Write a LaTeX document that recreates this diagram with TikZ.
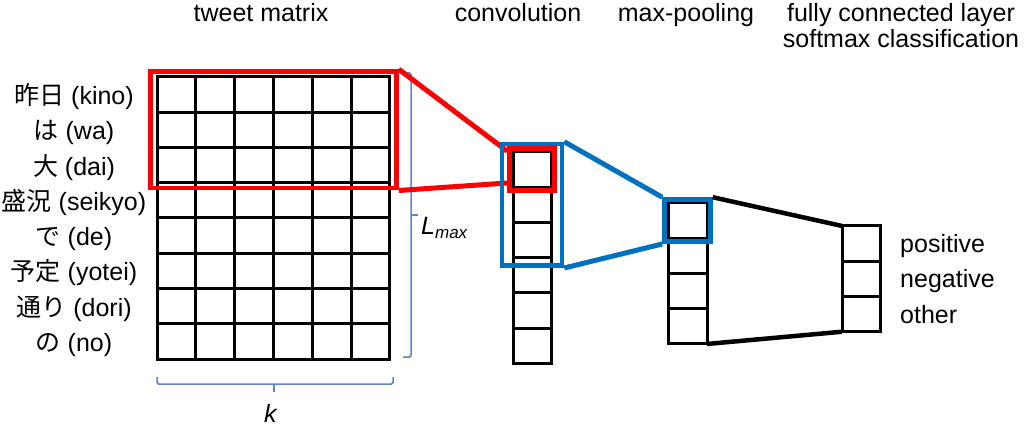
\documentclass[tikz,border=0pt]{standalone}
\usepackage{fontspec}
\setmainfont{Liberation Sans}
\newfontfamily\jpfont{Noto Sans CJK JP}
\usepackage{tikz}
\usetikzlibrary{positioning,fit}

\definecolor{winred}{RGB}{255,0,0}
\definecolor{winblue}{RGB}{0,112,192}
\definecolor{bracecol}{RGB}{98,130,200}

\newcommand{\jp}[1]{{\jpfont #1}}

\begin{document}
\begin{tikzpicture}[
  x=1pt, y=-1pt,
  font=\fontsize{25}{30}\selectfont,
  cell/.style={draw, line width=3, minimum width=38.8, minimum height=35.25, inner sep=0, outer sep=0},
  word/.style={anchor=base, inner sep=0},
  ttl/.style={anchor=base, inner sep=0},
  redwin/.style={draw=winred, line width=4.5},
  bluewin/.style={draw=winblue, line width=4.5},
  redln/.style={winred, line width=5},
  blueln/.style={winblue, line width=5},
  blackln/.style={black, line width=4.5},
  brace/.style={draw=bracecol, line width=1.5, rounded corners=1.5}
]
\useasboundingbox (0,0) rectangle (1024,430);

% titles
\node[ttl] (t-matrix) at (261,22) {tweet matrix};
\node[ttl] (t-conv) at (518,22) {convolution};
\node[ttl] (t-pool) at (686,22) {max-pooling};
\node[ttl] (t-fc1) at (901,22) {fully connected layer};
\node[ttl] (t-fc2) at (901,48) {softmax classification};

% tweet matrix, one row per word
\foreach \r in {1,...,8}
  \foreach \c in {1,...,6}
    \node[cell] (m-\r-\c) at ({157+(\c-0.5)*38.83}, {77+(\r-0.5)*35.25}) {};
\foreach \w [count=\r] in {{\jp{昨日} (kino)}, {\jp{は} (wa)}, {\jp{大} (dai)},
    {\jp{盛況} (seikyo)}, {\jp{で} (de)}, {\jp{予定} (yotei)}, {\jp{通り} (dori)}, {\jp{の} (no)}}
  \node[word] (w-\r) at (74, {77+(\r-0.5)*35.25+10}) {\w};
\node[redwin, fit=(m-1-1)(m-3-6), inner xsep=6.5, inner ysep=5.5] (win) {};

% braces
\draw[brace] (403,73) -- (411,73) -- (411,357) -- (403,357);
\draw[brace] (411,215) -- (418,215);
\node[anchor=base west, inner sep=0] (lmax) at (421,235)
  {\textit{L}\raisebox{-4pt}{\fontsize{17}{17}\selectfont\itshape max}};
\draw[brace] (157,377) -- (157,384) -- (393,384) -- (393,377);
\draw[brace] (274,384) -- (274,392);
\node[anchor=base, inner sep=0] (k) at (271,422) {\textit{k}};

% convolution column
\node[cell, minimum width=38] (c-1) at (532,169.6) {};
\foreach \i [remember=\i as \j (initially 1)] in {2,...,6}
  \node[cell, minimum width=38, below=0pt of c-\j] (c-\i) {};
\node[redwin, fit=(c-1), inner sep=3.5] (sel) {};
\draw[redln] (win.north east) -- ([yshift=-5]sel.north west);
\draw[redln] (win.south east) -- ([yshift=10]sel.south west);
\node[bluewin, fit=(c-1)(c-3), inner xsep=11, inner ysep=8] (cwin) {};

% max-pooling column
\node[cell, minimum width=39] (p-1) at (687.5,220.6) {};
\foreach \i [remember=\i as \j (initially 1)] in {2,...,4}
  \node[cell, minimum width=39, below=0pt of p-\j] (p-\i) {};
\node[bluewin, fit=(p-1), inner sep=3.5] (pwin) {};
\draw[blueln] (cwin.north east) -- (pwin.north west);
\draw[blueln] (cwin.south east) -- (pwin.south west);

% fully connected output
\node[cell, minimum width=38] (f-1) at (861,243.6) {};
\foreach \i [remember=\i as \j (initially 1)] in {2,3}
  \node[cell, minimum width=38, below=0pt of f-\j] (f-\i) {};
\draw[blackln] (pwin.north east) -- (f-1.north west);
\draw[blackln] (p-4.south east) -- (f-3.south west);
\foreach \l [count=\i] in {positive, negative, other}
  \node[anchor=base west, inner sep=0] (o-\i) at ([xshift=20, yshift=-9]f-\i.east) {\l};
\end{tikzpicture}
\end{document}
